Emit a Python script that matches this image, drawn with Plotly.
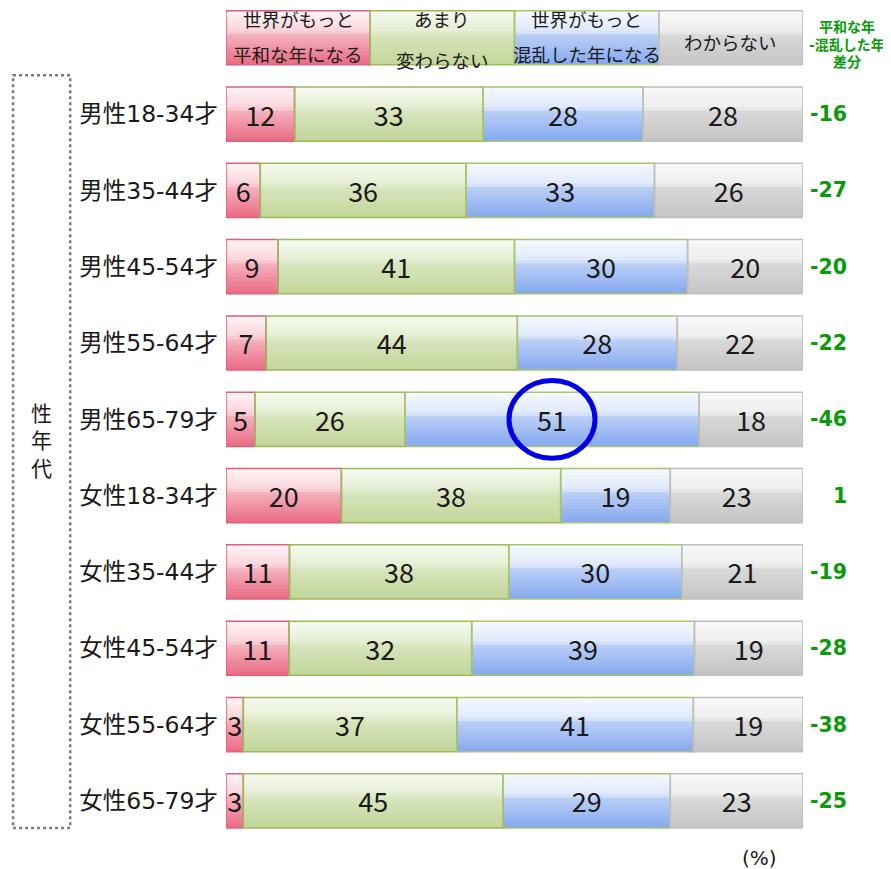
import plotly.graph_objects as go

# ---- data ----
categories = ["男性18-34才", "男性35-44才", "男性45-54才", "男性55-64才", "男性65-79才",
              "女性18-34才", "女性35-44才", "女性45-54才", "女性55-64才", "女性65-79才"]
peace = [12, 6, 9, 7, 5, 20, 11, 11, 3, 3]          # 世界がもっと平和な年になる
same = [33, 36, 41, 44, 26, 38, 38, 32, 37, 45]     # あまり変わらない
chaos = [28, 33, 30, 28, 51, 19, 30, 39, 41, 29]    # 世界がもっと混乱した年になる
unknown = [28, 26, 20, 22, 18, 23, 21, 19, 19, 23]  # わからない
diff = [-16, -27, -20, -22, -46, 1, -19, -28, -38, -25]  # 平和な年-混乱した年 差分
series_names = ["世界がもっと平和な年になる", "あまり変わらない", "世界がもっと混乱した年になる", "わからない"]
legend_top = ["世界がもっと", "あまり", "世界がもっと", ""]
legend_bottom = ["平和な年になる", "変わらない", "混乱した年になる", "わからない"]
legend_cells = [1, 1, 1, 1]
diff_header = ["平和な年", "-混乱した年", "差分"]
highlight_row = 4
highlight_series = 2

# ---- styles ----
FONT = "DejaVu Sans, Noto Sans CJK JP, sans-serif"
NUMFONT = "Noto Sans CJK JP, DejaVu Sans, sans-serif"
stops = [
    [(0, "#fef5f7"), (0.40, "#f9d2d9"), (0.42, "#f5b5c1"), (1, "#ea6a84")],
    [(0, "#f7faf0"), (0.40, "#e3edd2"), (0.42, "#d8e6be"), (1, "#c2d59a")],
    [(0, "#f6f9ff"), (0.40, "#dee8fb"), (0.42, "#bdd1f6"), (1, "#84a9ef")],
    [(0, "#f9f9f9"), (0.40, "#ededed"), (0.42, "#dadada"), (1, "#c4c4c4")],
]
borders = ["#de5f79", "#9bbb59", "#a9c46f", "#bfbfbf"]
BAR_W = 0.71
NBANDS = 16
YTOP = -1.39


def hex2rgb(h):
    h = h.lstrip("#")
    return [int(h[i:i + 2], 16) for i in (0, 2, 4)]


def grad(st, t):
    for (t0, c0), (t1, c1) in zip(st[:-1], st[1:]):
        if t0 <= t <= t1:
            a, b = hex2rgb(c0), hex2rgb(c1)
            f = (t - t0) / (t1 - t0) if t1 > t0 else 0
            return "rgb(%d,%d,%d)" % tuple(round(a[i] + (b[i] - a[i]) * f) for i in range(3))
    return st[-1][1]


data = [peace, same, chaos, unknown]
# normalize rows to 100 %
rows = [[s[i] for s in data] for i in range(len(categories))]
rows_pct = [[v / sum(r) * 100 for v in r] for r in rows]
leg_pct = [v / sum(legend_cells) * 100 for v in legend_cells]

ypos = [-1] + list(range(len(categories)))
all_rows = [leg_pct] + rows_pct
widths = {k: [all_rows[r][k] for r in range(len(all_rows))] for k in range(4)}
bases = {k: [sum(all_rows[r][:k]) for r in range(len(all_rows))] for k in range(4)}

fig = go.Figure()
for k in range(4):
    for b in range(NBANDS):
        t = (b + 0.5) / NBANDS
        fig.add_trace(go.Bar(
            y=ypos, x=widths[k], base=bases[k], orientation="h",
            width=BAR_W * (1 - b / NBANDS), offset=-BAR_W / 2 + BAR_W * b / NBANDS,
            marker=dict(color=grad(stops[k], t), line=dict(width=0)),
            showlegend=False, hoverinfo="skip"))
for k in range(4):
    txt = [""] + [str(v) for v in data[k]]
    fig.add_trace(go.Bar(
        y=ypos, x=widths[k], base=bases[k], orientation="h",
        width=BAR_W, offset=-BAR_W / 2, name=series_names[k],
        marker=dict(color="rgba(0,0,0,0)", line=dict(color=borders[k], width=1.5)),
        text=txt, textposition="inside", insidetextanchor="middle",
        textfont=dict(family=NUMFONT, size=27, color="#1a1a1a"),
        showlegend=False))

ann = []
HF = dict(family=FONT, size=18.5, color="#1a1a1a")
# legend header texts
for k in range(4):
    cx = bases[k][0] + widths[k][0] / 2
    if legend_top[k]:
        ann.append(dict(x=cx, y=-1.22, xref="x", yref="y", xanchor="center", text=legend_top[k],
                        showarrow=False, font=HF))
        ann.append(dict(x=cx, y=-0.77 if k != 1 else -0.69, xref="x", yref="y", xanchor="center",
                        text=legend_bottom[k], showarrow=False, font=HF))
    else:
        ann.append(dict(x=cx, y=-0.93, xref="x", yref="y", xanchor="center", text=legend_bottom[k],
                        showarrow=False, font=HF))
# diff column
GREEN = "#0a9a0a"
for j, yy in enumerate([-1.141, -0.905, -0.682]):
    ann.append(dict(x=1.0765, y=yy, xref="paper", yref="y", xanchor="center", text=diff_header[j],
                    showarrow=False, font=dict(family=FONT, size=14, color=GREEN, weight="bold")))
for i, d in enumerate(diff):
    ann.append(dict(x=1.0795, y=i, xref="paper", yref="y", text=str(d), xanchor="right",
                    showarrow=False, font=dict(family=FONT, size=20.5, color=GREEN, weight="bold")))
# side label
ann.append(dict(x=-0.3206, y=0.478, xref="paper", yref="paper", xanchor="center", yanchor="middle",
                text="性<br>年<br>代", showarrow=False, font=dict(family=FONT, size=21, color="#1a1a1a")))
ann.append(dict(x=0.925, y=-0.0229, xref="paper", yref="paper", xanchor="center", yanchor="middle",
                text="(%)", showarrow=False, font=dict(family=FONT, size=20, color="#1a1a1a")))

cx = bases[highlight_series][highlight_row + 1] + widths[highlight_series][highlight_row + 1] / 2
shapes = [
    dict(type="rect", xref="paper", yref="paper", x0=-0.369, x1=-0.270, y0=0.0132, y1=0.919,
         line=dict(color="#7a7a7a", width=2.5, dash="dot")),
    dict(type="circle", xref="x", yref="y", x0=cx - 7.45, x1=cx + 7.45,
         y0=highlight_row - 0.51, y1=highlight_row + 0.51, line=dict(color="#0000e6", width=5)),
]

fig.update_layout(
    width=883, height=861, barmode="overlay",
    margin=dict(l=218, r=88, t=0, b=30),
    paper_bgcolor="white", plot_bgcolor="white",
    xaxis=dict(range=[0, 100], showgrid=False, zeroline=False, showticklabels=False, showline=False),
    yaxis=dict(range=[9.5, YTOP], tickvals=list(range(len(categories))), ticktext=categories,
               showgrid=False, zeroline=False, showline=False, ticks="", automargin=False,
               ticklabelstandoff=7,
               tickfont=dict(family=FONT, size=23.5, color="#1a1a1a")),
    uniformtext=dict(mode="show", minsize=27),
    annotations=ann, shapes=shapes,
)
fig.write_html("out.html")
